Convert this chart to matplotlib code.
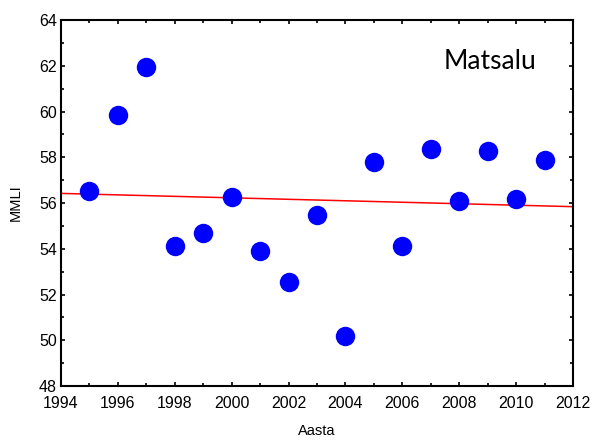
import matplotlib
matplotlib.use("Agg")
import matplotlib.pyplot as plt
from matplotlib.ticker import MultipleLocator

years = [1995, 1996, 1997, 1998, 1999, 2000, 2001, 2002, 2003, 2004,
         2005, 2006, 2007, 2008, 2009, 2010, 2011]
mmli = [56.54, 59.83, 61.96, 54.13, 54.67, 56.28, 53.90, 52.56, 55.46, 50.19,
        57.81, 54.12, 58.36, 56.10, 58.29, 56.17, 57.87]
trend_x = [1994, 2012]
trend_y = [56.42, 55.84]

plt.rcParams['font.family'] = ['Liberation Sans', 'DejaVu Sans']

fig = plt.figure(figsize=(5.95, 4.41), dpi=100)
ax = fig.add_axes([0.1025, 0.1247, 0.8605, 0.8299])

ax.plot(trend_x, trend_y, color='#ff0000', lw=1.1, zorder=2)
ax.plot(years, mmli, 'o', color='#0000ff', markersize=14, markeredgewidth=0, zorder=3)

ax.set_xlim(1994, 2012)
ax.set_ylim(48, 64)
ax.xaxis.set_major_locator(MultipleLocator(2))
ax.xaxis.set_minor_locator(MultipleLocator(1))
ax.yaxis.set_major_locator(MultipleLocator(2))
ax.yaxis.set_minor_locator(MultipleLocator(1))

ax.tick_params(which='both', direction='in', top=True, right=True, width=1.2, colors='black')
ax.tick_params(which='major', length=3.2, labelsize=11.5)
ax.tick_params(which='minor', length=2.4)
ax.tick_params(axis='x', pad=7.5)
ax.tick_params(axis='y', pad=3)
for s in ax.spines.values():
    s.set_linewidth(1.5)

ax.set_xlabel('Aasta', fontsize=10.5)
ax.set_ylabel('MMLI', fontsize=10.5)
ax.xaxis.set_label_coords(0.5, -0.103)
ax.yaxis.set_label_coords(-0.074, 0.5)

ax.text(0.748, 0.866, 'Matsalu', transform=ax.transAxes, fontsize=19,
        family=['Lato', 'DejaVu Sans'], ha='left', va='baseline')

fig.savefig('out.png', dpi=100)
